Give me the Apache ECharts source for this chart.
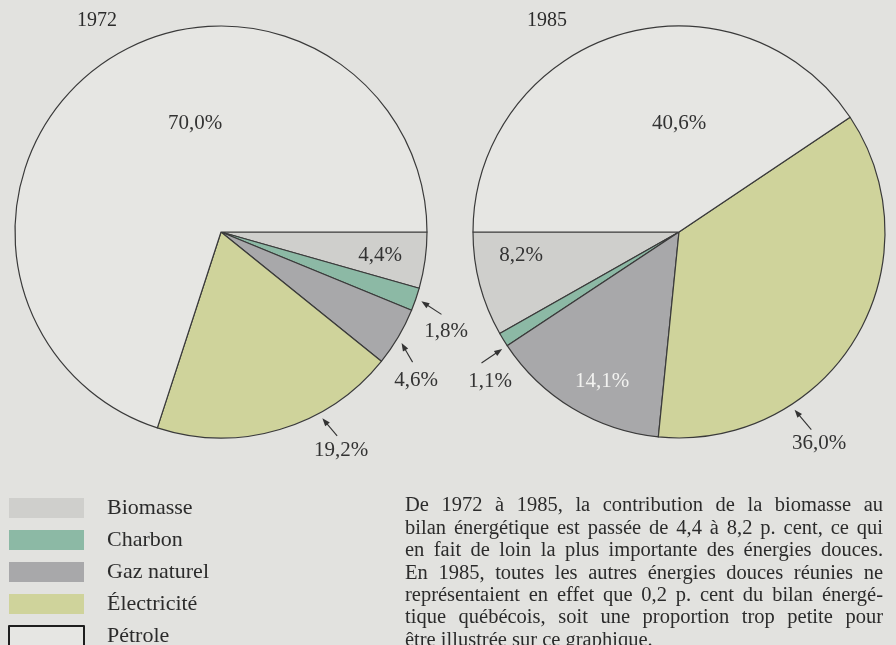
<!DOCTYPE html>
<html>
<head>
<meta charset="utf-8">
<script src="https://cdn.jsdelivr.net/npm/echarts@6/dist/echarts.min.js"></script>
<style>
  html, body { margin: 0; padding: 0; background: #e2e2df; }
  #chart { width: 896px; height: 645px; }
</style>
</head>
<body>
<div id="chart"></div>
<script>
// données
var sources = ['Biomasse', 'Charbon', 'Gaz naturel', 'Électricité', 'Pétrole'];
var share1972 = [4.4, 1.8, 4.6, 19.2, 70.0];
var share1985 = [8.2, 1.1, 14.1, 36.0, 40.6];
var years = ['1972', '1985'];
var captionLines = [
    'De 1972 à 1985, la contribution de la biomasse au',
    'bilan énergétique est passée de 4,4 à 8,2 p. cent, ce qui',
    'en fait de loin la plus importante des énergies douces.',
    'En 1985, toutes les autres énergies douces réunies ne',
    'représentaient en effet que 0,2 p. cent du bilan énergé-',
    'tique québécois, soit une proportion trop petite pour',
    'être illustrée sur ce graphique.'
];

// mise en page
var SERIF = '"Liberation Serif", "DejaVu Serif", serif';
var colors = ['#cfcfcc', '#8cb9a5', '#a8a8aa', '#cfd39b', '#e6e6e3'];
var R = 206;
var centers = [[221, 232], [679, 232]];
var startAngles = [0, 180];
var clockwise = [true, false];
// position des étiquettes par rapport au centre de chaque pointe
var labelOffsets = [
    [[159, 23], [225, 99], [195, 148], [120, 218], [-26, -109]],
    [[-158, 23], [-189, 149], [-77, 149], [140, 211], [0, -109]]
];
// flèches : [graphique, index, décalage d'angle, direction, longueur]
var arrows = [
    [0, 1, 0, 33, 24],
    [0, 2, 1, 60, 22],
    [0, 3, -12, 50, 23],
    [1, 1, -2, 146, 25],
    [1, 3, 26, 50, 26]
];

var allValues = [share1972, share1985];

function midAngle(values, i, p) {
    var total = 0, before = 0;
    values.forEach(function (v, k) { total += v; if (k < i) before += v; });
    var f = (before + values[i] / 2) / total;
    return p === 0 ? 360 * f : 180 - 360 * f;
}

function fmt(v) {
    return v.toFixed(1).replace('.', ',') + '%';
}

function pieSeries(values, p) {
    return {
        type: 'pie',
        center: centers[p],
        radius: R,
        startAngle: startAngles[p],
        clockwise: clockwise[p],
        silent: true,
        itemStyle: { borderColor: '#3a3a3a', borderWidth: 1.2 },
        label: {
            show: true,
            position: 'inside',
            fontFamily: SERIF,
            fontSize: 21,
            color: '#333',
            formatter: function (params) { return fmt(params.value); }
        },
        labelLine: { show: false },
        labelLayout: function (params) {
            var o = labelOffsets[p][params.dataIndex];
            return {
                x: centers[p][0] + o[0],
                y: centers[p][1] + o[1],
                align: 'center',
                verticalAlign: 'middle'
            };
        },
        data: values.map(function (v, i) {
            var item = { name: sources[i], value: v, itemStyle: { color: colors[i] } };
            if (p === 1 && i === 2) item.label = { color: '#f2f2f0' };
            return item;
        })
    };
}

var graphics = [];

// flèches
arrows.forEach(function (a) {
    var p = a[0];
    var ang = (midAngle(allValues[p], a[1], p) + a[2]) * Math.PI / 180;
    var hx = centers[p][0] + (R + 6) * Math.cos(ang);
    var hy = centers[p][1] + (R + 6) * Math.sin(ang);
    var d = a[3] * Math.PI / 180;
    var tx = hx + a[4] * Math.cos(d);
    var ty = hy + a[4] * Math.sin(d);
    var ux = Math.cos(d), uy = Math.sin(d);
    graphics.push({
        type: 'line', silent: true,
        shape: { x1: hx + ux * 5, y1: hy + uy * 5, x2: tx, y2: ty },
        style: { stroke: '#333', lineWidth: 1.1 }
    });
    graphics.push({
        type: 'polygon', silent: true,
        shape: { points: [
            [hx, hy],
            [hx + ux * 8 - uy * 3, hy + uy * 8 + ux * 3],
            [hx + ux * 8 + uy * 3, hy + uy * 8 - ux * 3]
        ] },
        style: { fill: '#333' }
    });
});

// texte justifié
var capFont = '20.5px ' + SERIF;
var ctx = document.createElement('canvas').getContext('2d');
ctx.font = capFont;
var capLeft = 405, capRight = 883, capTop = 506, capPitch = 22.4;
captionLines.forEach(function (line, li) {
    var words = line.split(' ');
    var widths = words.map(function (w) { return ctx.measureText(w).width; });
    var sum = widths.reduce(function (s, w) { return s + w; }, 0);
    var last = li === captionLines.length - 1;
    var gap = last ? ctx.measureText(' ').width : (capRight - capLeft - sum) / (words.length - 1);
    var x = capLeft;
    words.forEach(function (w, wi) {
        graphics.push({
            type: 'text', silent: true,
            x: x, y: capTop + li * capPitch,
            style: { text: w, font: capFont, fill: '#2b2b2b', verticalAlign: 'middle' }
        });
        x += widths[wi] + gap;
    });
});

var myChart = echarts.init(document.getElementById('chart'));

var option = {
    backgroundColor: '#e2e2df',
    animation: false,
    title: years.map(function (y, i) {
        return {
            text: y,
            left: [77, 527][i],
            top: 11,
            padding: 0,
            textStyle: { fontFamily: SERIF, fontSize: 20, fontWeight: 'normal', color: '#2b2b2b' }
        };
    }),
    legend: {
        orient: 'vertical',
        left: 8,
        top: 497,
        height: 300,
        padding: 0,
        itemWidth: 75,
        itemHeight: 20,
        itemGap: 10,
        icon: 'rect',
        selectedMode: false,
        textStyle: { fontFamily: SERIF, fontSize: 22, color: '#2b2b2b', padding: [0, 0, 0, 18] },
        data: sources.map(function (n, i) {
            return {
                name: n,
                itemStyle: i === 4
                    ? { color: '#e6e6e3', borderColor: '#1e1e1e', borderWidth: 2 }
                    : { borderWidth: 0 }
            };
        })
    },
    graphic: graphics,
    series: [pieSeries(share1972, 0), pieSeries(share1985, 1)]
};

myChart.setOption(option);
</script>
</body>
</html>
